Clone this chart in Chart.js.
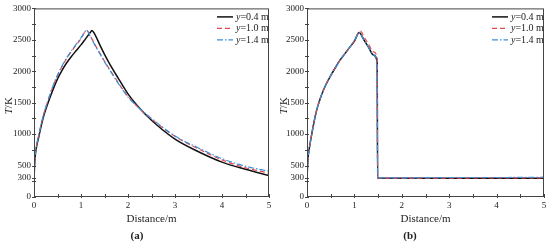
<!DOCTYPE html>
<html>
<head>
<meta charset="utf-8">
<script src="https://cdn.jsdelivr.net/npm/chart.js@4"></script>
<style>
  body { margin: 0; background: #fff; }
  .panel { position: absolute; top: 0; width: 275px; height: 244px; }
</style>
</head>
<body>
<div class="panel" style="left:0"><canvas id="chartA" width="275" height="244"></canvas></div>
<div class="panel" style="left:275px"><canvas id="chartB" width="275" height="244"></canvas></div>
<script>
// --- data ---
const seriesNames = ['0.4', '1.0', '1.4'];
const xTicks = [0, 1, 2, 3, 4, 5];
const yTicks = [0, 300, 500, 1000, 1500, 2000, 2500, 3000];

// panel (a)
const distA04 = [0, 0.02, 0.05, 0.1, 0.15, 0.2, 0.3, 0.4, 0.5, 0.6, 0.7, 0.8, 0.9, 1.0, 1.1, 1.2, 1.23, 1.3, 1.4, 1.5, 1.6, 1.8, 2.0, 2.2, 2.5, 3.0, 3.5, 4.0, 4.5, 5.0];
const tempA04 = [300, 600, 780, 950, 1120, 1270, 1500, 1700, 1880, 2020, 2140, 2240, 2330, 2420, 2520, 2620, 2650, 2580, 2420, 2270, 2130, 1880, 1640, 1450, 1220, 920, 720, 555, 440, 340];
const distA = [0, 0.02, 0.05, 0.1, 0.15, 0.2, 0.3, 0.4, 0.5, 0.6, 0.7, 0.8, 0.9, 1.0, 1.12, 1.2, 1.3, 1.4, 1.5, 1.6, 1.8, 2.0, 2.2, 2.5, 3.0, 3.5, 4.0, 4.5, 5.0];
const tempA10 = [300, 620, 800, 980, 1150, 1300, 1540, 1750, 1930, 2080, 2210, 2320, 2420, 2520, 2650, 2560, 2420, 2290, 2160, 2040, 1810, 1600, 1440, 1240, 965, 765, 590, 465, 380];
const tempA14 = [300, 620, 800, 980, 1150, 1300, 1540, 1760, 1940, 2090, 2220, 2330, 2430, 2530, 2650, 2550, 2410, 2280, 2150, 2030, 1800, 1590, 1440, 1250, 970, 780, 610, 490, 410];

// panel (b)
const distB = [0, 0.02, 0.05, 0.1, 0.15, 0.2, 0.3, 0.4, 0.5, 0.6, 0.7, 0.8, 0.9, 1.0, 1.1, 1.2, 1.3, 1.4, 1.48, 1.49, 1.6, 2, 3, 4, 5];
const distB10 = [0, 0.02, 0.05, 0.1, 0.15, 0.2, 0.3, 0.4, 0.5, 0.6, 0.7, 0.8, 0.9, 1.0, 1.13, 1.2, 1.3, 1.4, 1.48, 1.49, 1.6, 2, 3, 4, 5];
const tempB04 = [300, 600, 780, 1000, 1200, 1370, 1610, 1790, 1930, 2060, 2180, 2280, 2380, 2480, 2615, 2500, 2380, 2260, 2150, 300, 300, 300, 300, 300, 300];
const tempB10 = [300, 600, 780, 1000, 1200, 1370, 1610, 1790, 1930, 2060, 2180, 2280, 2380, 2490, 2640, 2550, 2430, 2310, 2220, 300, 300, 300, 300, 305, 305];
const tempB14 = [300, 600, 780, 1000, 1200, 1370, 1610, 1790, 1930, 2060, 2180, 2280, 2380, 2480, 2615, 2500, 2380, 2260, 2150, 305, 305, 305, 310, 310, 315];

const serif = '"Liberation Serif", "Times New Roman", serif';
const styles = [
  { color: '#111111', width: 1.5, dash: [] },
  { color: '#e5484d', width: 1.2, dash: [5, 3] },
  { color: '#3b8fd9', width: 1.2, dash: [6, 2, 1.5, 2] }
];

function pts(xs, ys) {
  return xs.map((x, i) => ({ x: x, y: ys[i] }));
}

// frame, ticks, legend and labels
const decorPlugin = {
  id: 'decor',
  afterDraw(chart, args, opts) {
    const ctx = chart.ctx;
    const a = chart.chartArea;
    const xs = chart.scales.x, ys = chart.scales.y;
    ctx.save();
    ctx.strokeStyle = '#444';
    ctx.lineWidth = 1;
    ctx.setLineDash([]);
    ctx.strokeRect(a.left + 0.5, a.top + 0.5, a.right - a.left - 1, a.bottom - a.top - 1);

    ctx.beginPath();
    for (let v = 0; v <= 5.001; v += 0.5) {
      const px = Math.round(xs.getPixelForValue(v)) + 0.5;
      ctx.moveTo(px, a.bottom + 1);
      ctx.lineTo(px, a.bottom - 3);
    }
    for (let v = 0; v <= 3000; v += 250) {
      const py = Math.round(ys.getPixelForValue(v)) + 0.5;
      ctx.moveTo(a.left - 2, py);
      ctx.lineTo(a.left + 2, py);
    }
    [300].forEach(v => {
      const py = Math.round(ys.getPixelForValue(v)) + 0.5;
      ctx.moveTo(a.left - 2, py);
      ctx.lineTo(a.left + 2, py);
    });
    ctx.stroke();

    // legend
    ctx.textBaseline = 'middle';
    const rowY = [a.top + 8.5, a.top + 20, a.top + 31.5];
    seriesNames.forEach((name, i) => {
      const st = styles[i];
      const y = rowY[i];
      const tx = a.right - 33;
      ctx.strokeStyle = st.color;
      ctx.lineWidth = st.width;
      ctx.setLineDash(st.dash);
      ctx.beginPath();
      ctx.moveTo(tx - 19, y);
      ctx.lineTo(tx - 3, y);
      ctx.stroke();
      ctx.setLineDash([]);
      ctx.fillStyle = '#222';
      ctx.font = 'italic 10px ' + serif;
      ctx.textAlign = 'left';
      ctx.fillText('y', tx, y);
      const w = ctx.measureText('y').width;
      ctx.font = '10px ' + serif;
      ctx.fillText('=' + name + ' m', tx + w, y);
    });

    // y-axis title T/K
    ctx.save();
    ctx.translate(9, (a.top + a.bottom) / 2 + 3);
    ctx.rotate(-Math.PI / 2);
    ctx.font = 'italic 11px ' + serif;
    const wT = ctx.measureText('T').width;
    ctx.font = '11px ' + serif;
    const wK = ctx.measureText('/K').width;
    const x0 = -(wT + wK) / 2;
    ctx.fillStyle = '#222';
    ctx.textAlign = 'left';
    ctx.font = 'italic 11px ' + serif;
    ctx.fillText('T', x0, 0);
    ctx.font = '11px ' + serif;
    ctx.fillText('/K', x0 + wT, 0);
    ctx.restore();

    // panel letter
    ctx.font = 'bold 11px ' + serif;
    ctx.fillStyle = '#222';
    ctx.textAlign = 'center';
    ctx.fillText(opts.letter, opts.letterX, 236);
    ctx.restore();
  }
};

function makePanel(id, sets, letter, letterX, yWidth) {
  const ctx = document.getElementById(id).getContext('2d');
  return new Chart(ctx, {
    type: 'line',
    data: {
      datasets: sets.map((s, i) => ({
        label: 'y=' + seriesNames[i] + ' m',
        data: s,
        borderColor: styles[i].color,
        borderWidth: styles[i].width,
        borderDash: styles[i].dash,
        pointRadius: 0,
        fill: false,
        cubicInterpolationMode: 'monotone'
      })).reverse()
    },
    options: {
      responsive: false,
      animation: false,
      layout: { padding: { left: 0, top: 7, right: 6, bottom: 18 } },
      plugins: {
        legend: { display: false },
        tooltip: { enabled: false },
        decor: { letter: letter, letterX: letterX }
      },
      scales: {
        x: {
          type: 'linear',
          min: 0, max: 5,
          afterBuildTicks: s => { s.ticks = xTicks.map(v => ({ value: v })); },
          afterFit: s => { s.height = 29; },
          grid: { display: false, drawTicks: false },
          border: { display: false },
          ticks: { padding: 3, color: '#222', font: { family: serif, size: 9 }, callback: v => String(v) },
          title: { display: true, text: 'Distance/m', color: '#222', padding: 0, font: { family: serif, size: 11 } }
        },
        y: {
          type: 'linear',
          min: 0, max: 3000,
          afterBuildTicks: s => { s.ticks = yTicks.map(v => ({ value: v })); },
          afterFit: s => { s.width = yWidth; },
          grid: { display: false, drawTicks: false },
          border: { display: false },
          ticks: { padding: 3, color: '#222', font: { family: serif, size: 9 }, callback: v => String(v) }
        }
      }
    },
    plugins: [decorPlugin]
  });
}

makePanel('chartA', [pts(distA04, tempA04), pts(distA, tempA10), pts(distA, tempA14)], '(a)', 137, 34);
makePanel('chartB', [pts(distB, tempB04), pts(distB10, tempB10), pts(distB, tempB14)], '(b)', 135, 32);
</script>
</body>
</html>
